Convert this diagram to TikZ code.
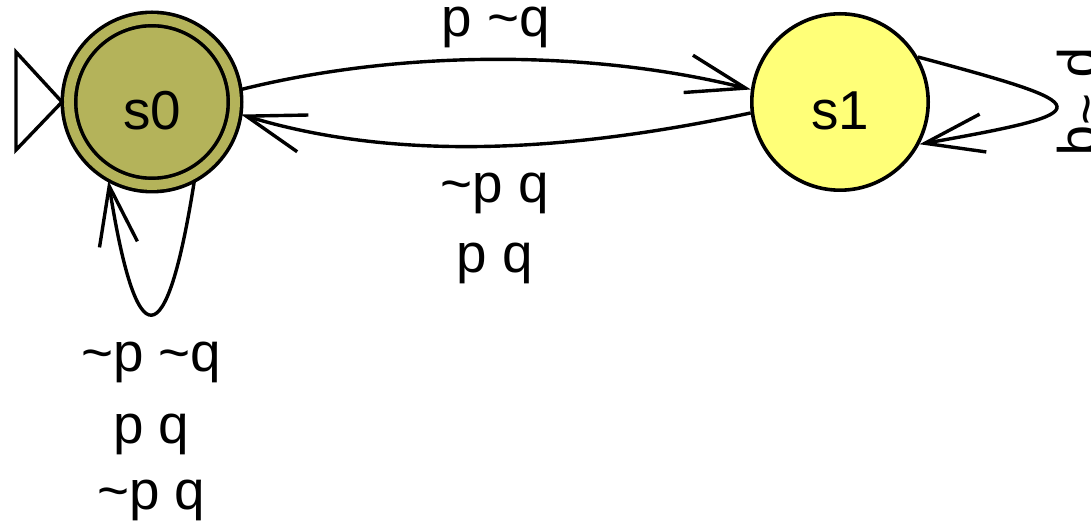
\documentclass[tikz,border=0pt]{standalone}
\usepackage{fontspec}
\setmainfont{Liberation Sans}
\usetikzlibrary{arrows.meta}
\definecolor{stateolive}{HTML}{B4B35A}
\definecolor{stateyellow}{HTML}{FFFF78}

\begin{document}
\begin{tikzpicture}[
  state/.style={circle,draw=black,line width=.09cm,minimum size=4.41cm,inner sep=0pt,text height=1.385cm,font=\fontsize{39}{50}\selectfont},
  accepting/.style={double=stateolive,double distance=.245cm,minimum size=4.15cm,outer sep=.175cm},
  trans/.style={line width=.085cm,-{Straight Barb[length=1.475cm,width=.96cm]}},
  lbl/.style={font=\fontsize{39}{50}\selectfont,inner sep=.25cm,align=center}]
\useasboundingbox (0,0) rectangle (27.275,13.05);
\node[state,accepting,fill=stateolive] (s0) at (3.8,10.5) {s0};
\node[state,fill=stateyellow] (s1) at (21,10.5) {s1};
% start marker
\draw[line width=.085cm] (s0.west) -- ++(-1.15,1.25) -- ++(0,-2.45) -- cycle;
\draw[trans] (s0.8) to[out=14,in=166,looseness=.83] node[lbl,above]{p \textasciitilde q} (s1.172);
\draw[trans] (s1.187) to[out=192,in=-17,looseness=.86] node[lbl,below=.375cm]{\textasciitilde p q\\p q} (s0.-8);
\draw[trans] (s0.-62) to[out=-99,in=-81,looseness=5.35] node[lbl,below=.4cm]{\textasciitilde p \textasciitilde q\\[.05cm]p q\\[-.125cm]\textasciitilde p q} (s0.-119);
\draw[trans] (s1.30) to[out=-15,in=10,looseness=5.5] node[lbl,pos=.43,rotate=-90,anchor=south,inner sep=.05cm]{p \textasciitilde q} (s1.-28);
\end{tikzpicture}
\end{document}
